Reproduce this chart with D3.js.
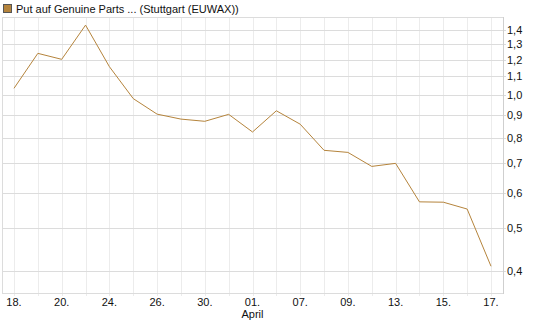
<!DOCTYPE html>
<html>
<head>
<meta charset="utf-8">
<script src="https://cdn.jsdelivr.net/npm/d3@7"></script>
<style>
  body { margin:0; background:#fff; }
  svg { display:block; font-family:"Liberation Sans", Arial, sans-serif; }
  .grid-x line { stroke:#ececec; }
  .grid-y line { stroke:#dcdcdc; }
  text { fill:#111; font-size:11px; }
</style>
</head>
<body>
<div id="viz"></div>
<script>
const dates  = ['18.','19.','20.','23.','24.','25.','26.','27.','30.','31.','01.','02.','07.','08.','09.','10.','13.','14.','15.','16.','17.'];
const prices = [1.034,1.24,1.202,1.436,1.157,0.98,0.904,0.881,0.871,0.903,0.824,0.92,0.858,0.749,0.741,0.689,0.70,0.573,0.572,0.552,0.41];
const xLabels = ['18.','20.','24.','26.','30.','01.','07.','09.','13.','15.','17.'];
const yTicks = [0.4,0.5,0.6,0.7,0.8,0.9,1.0,1.1,1.2,1.3,1.4];
const seriesName = 'Put auf Genuine Parts ... (Stuttgart (EUWAX))';

const width=545, height=327;
const plot = {left:2, right:503, top:17, bottom:293};

const svg = d3.select('#viz').append('svg')
  .attr('width',width).attr('height',height);

const x = d3.scalePoint().domain(dates).range([14,491]);
const y = d3.scaleLog().domain([0.4,1.4]).range([271,30]);

// vertical grid
svg.append('g').attr('class','grid-x').selectAll('line').data(dates).enter().append('line')
  .attr('x1',d=>Math.round(x(d))+0.5).attr('x2',d=>Math.round(x(d))+0.5)
  .attr('y1',plot.top).attr('y2',plot.bottom+3);

// horizontal grid
svg.append('g').attr('class','grid-y').selectAll('line').data(yTicks).enter().append('line')
  .attr('x1',plot.left).attr('x2',plot.right+3)
  .attr('y1',d=>Math.round(y(d))+0.5).attr('y2',d=>Math.round(y(d))+0.5);

// frame
svg.append('rect').attr('x',plot.left+0.5).attr('y',plot.top+0.5)
  .attr('width',plot.right-plot.left).attr('height',plot.bottom-plot.top)
  .attr('fill','none').attr('stroke','#dcdcdc');
svg.append('line').attr('x1',plot.right+0.5).attr('x2',plot.right+0.5)
  .attr('y1',plot.top).attr('y2',plot.bottom+1).attr('stroke','#cfcfcf');

// y labels
svg.append('g').selectAll('text').data(yTicks).enter().append('text')
  .attr('x',507).attr('y',d=>y(d)+4)
  .text(d=>d.toFixed(1).replace('.',','));

// x labels
svg.append('g').selectAll('text').data(xLabels).enter().append('text')
  .attr('x',d=>x(d)).attr('y',306).attr('text-anchor','middle')
  .text(d=>d);
svg.append('text').attr('x',x('01.')).attr('y',318).attr('text-anchor','middle').text('April');

// line
svg.append('path').datum(prices)
  .attr('fill','none').attr('stroke','#b5843c').attr('stroke-width',1)
  .attr('d', d3.line().x((d,i)=>x(dates[i])).y(d=>y(d)));

// legend
svg.append('rect').attr('x',3.5).attr('y',4.5).attr('width',8).attr('height',8)
  .attr('fill','#b5843c').attr('stroke','#555');
svg.append('text').attr('x',16).attr('y',12.5).text(seriesName);
</script>
</body>
</html>
